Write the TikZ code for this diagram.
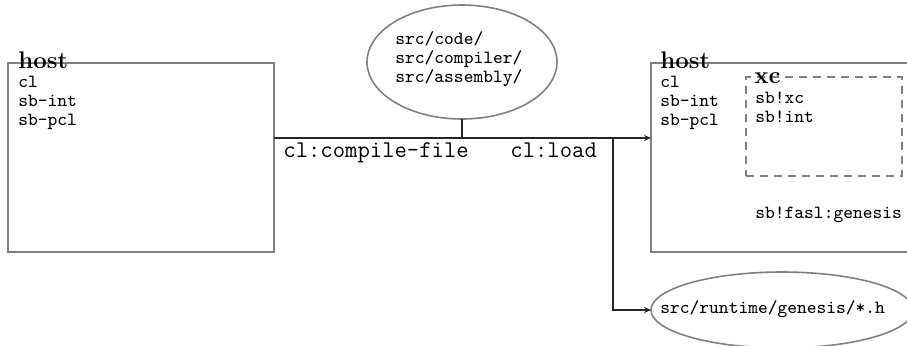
\documentclass[tikz,border=0pt]{standalone}
\usetikzlibrary{shapes.geometric,arrows.meta}
% stack of lines whose baseline is the first line's
\newcommand{\linestack}[1]{\vtop{\halign{##\hfil\cr#1\crcr}}}
\begin{document}
\begin{tikzpicture}[x=0.5pt,y=-0.5pt,
  frame/.style={draw=gray,line width=1pt,rectangle,inner sep=0pt,outer sep=0pt},
  subframe/.style={draw=gray,line width=1pt,dash pattern=on 4pt off 3pt,rectangle,inner sep=0pt,outer sep=0pt},
  blob/.style={draw=gray,line width=0.8pt,ellipse,inner sep=0pt,outer sep=0pt},
  title/.style={anchor=base west,inner sep=0pt,font=\fontsize{12}{14}\selectfont\bfseries},
  items/.style={anchor=base west,inner sep=0pt,font=\fontsize{9.3}{9.5}\selectfont\ttfamily},
  call/.style={anchor=base west,inner sep=0pt,font=\fontsize{12}{14}\selectfont\ttfamily},
  link/.style={draw=black!85,line width=0.6pt},
  arr/.style={link,-{Stealth[length=3.5pt,width=3pt]}}]
\useasboundingbox (0,0) rectangle (907,345);

% build host (left)
\node[frame,minimum width=133pt,minimum height=94.5pt] (lhost) at (141,157.5) {};
\node[title] (lhosttitle) at (18,68) {host};
\node[items] (lhostpkgs) at (18,87) {\linestack{cl\cr sb-int\cr sb-pcl}};

% target image (right)
\node[frame,minimum width=174.5pt,minimum height=94.5pt] (rhost) at (825.5,157.5) {};
\node[title] (rhosttitle) at (660,68) {host};
\node[items] (rhostpkgs) at (660,87) {\linestack{cl\cr sb-int\cr sb-pcl}};
\node[subframe,minimum width=78pt,minimum height=49.5pt] (xc) at (824,126.5) {};
\node[title] (xctitle) at (754,83) {xc};
\node[items] (xcpkgs) at (755,103) {\linestack{sb!xc\cr sb!int}};
\node[items] (genesisfn) at (755,218) {sb!fasl:genesis};

% sources
\node[blob,minimum width=95pt,minimum height=57pt] (srcs) at (462,62) {};
\node[items] (srcstext) at (395,44) {\linestack{src/code/\cr src/compiler/\cr src/assembly/}};

% generated headers
\node[blob,minimum width=131pt,minimum height=38pt] (genesis) at (782,310) {};
\node[items] (genesistext) at (660,313) {src/runtime/genesis/*.h};

% connectors
\coordinate (j1) at (462,138);
\coordinate (j2) at (613,138);
\draw[arr] (lhost.east |- j1) -- (rhost.west |- j1);
\draw[link] (srcs.south) -- (j1);
\draw[arr] (j2) |- (genesis.west);

% call labels
\node[call] (compile) at (283,157) {cl:compile-file};
\node[call] (load) at (510,157) {cl:load};
\end{tikzpicture}
\end{document}
